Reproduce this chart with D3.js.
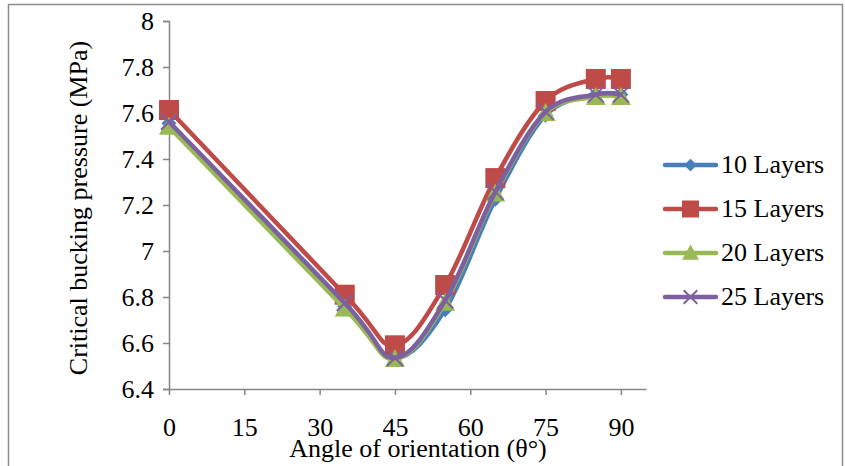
<!DOCTYPE html>
<html>
<head>
<meta charset="utf-8">
<script src="https://cdn.jsdelivr.net/npm/d3@7"></script>
<style>
  body { margin: 0; background: #fff; }
</style>
</head>
<body>
<svg class="chart" width="845" height="466"></svg>
<script>
// Angles (x) and critical buckling pressure for each layer count
var angles = [0, 35, 45, 55, 65, 75, 85, 90];
var layers10 = [7.555, 6.76, 6.535, 6.745, 7.225, 7.59, 7.68, 7.68];
var layers15 = [7.613, 6.81, 6.59, 6.852, 7.317, 7.652, 7.748, 7.748];
var layers20 = [7.54, 6.75, 6.53, 6.775, 7.25, 7.60, 7.67, 7.67];
var layers25 = [7.562, 6.774, 6.535, 6.785, 7.257, 7.605, 7.68, 7.68];
var seriesNames = ["10 Layers", "15 Layers", "20 Layers", "25 Layers"];
var xTicks = [0, 15, 30, 45, 60, 75, 90];
var yTicks = [6.4, 6.6, 6.8, 7, 7.2, 7.4, 7.6, 7.8, 8];

var colors = ["#4a7ebb", "#be4b48", "#98b954", "#7d60a0"];
var shapes = ["diamond", "square", "triangle", "cross"];
var serif = "'Liberation Serif', 'Times New Roman', serif";
var fs = "26px";

var svg = d3.select(".chart");

// Outer chart border
svg.append("rect")
    .attr("x", 8.5).attr("y", 4.5)
    .attr("width", 834).attr("height", 480)
    .attr("fill", "none")
    .attr("stroke", "#8c8c8c")
    .attr("stroke-width", 1.5);

var x = d3.scaleLinear().domain([0, 95]).range([169, 646]);
var y = d3.scaleLinear().domain([6.4, 8]).range([389, 21]);

// Y axis
var yAxis = svg.append("g")
    .attr("transform", "translate(" + x(0) + ",0)")
    .call(d3.axisLeft(y).tickValues(yTicks).tickSize(6).tickPadding(9)
        .tickFormat(function(d) { return d3.format("")(+d.toFixed(1)); }));
yAxis.attr("font-family", null);
yAxis.select(".domain").attr("stroke", "#868686").attr("stroke-width", 1.5);
yAxis.selectAll("line").attr("stroke", "#868686").attr("stroke-width", 1.5);
yAxis.selectAll("text").style("font-size", fs).style("font-family", serif).attr("fill", "#000");

// X axis
var xAxis = svg.append("g")
    .attr("transform", "translate(0," + y(6.4) + ")")
    .call(d3.axisBottom(x).tickValues(xTicks).tickSizeInner(6).tickSizeOuter(0).tickPadding(23));
xAxis.attr("font-family", null);
xAxis.select(".domain").attr("stroke", "#868686").attr("stroke-width", 1.5);
xAxis.selectAll("line").attr("stroke", "#868686").attr("stroke-width", 1.5);
xAxis.selectAll("text").style("font-size", fs).style("font-family", serif).attr("fill", "#000");

// Axis titles
svg.append("text")
    .attr("transform", "translate(87,208) rotate(-90)")
    .style("text-anchor", "middle")
    .style("font-size", fs)
    .style("font-family", serif)
    .text("Critical bucking pressure (MPa)");

svg.append("text")
    .attr("x", 418).attr("y", 457)
    .style("text-anchor", "middle")
    .style("font-size", fs)
    .style("font-family", serif)
    .text("Angle of orientation (θ°)");

// Markers (k scales the size, used smaller in the legend)
function marker(g, shape, color, cx, cy, k) {
    if (shape === "diamond") {
        var s = 7.5 * k;
        g.append("path")
            .attr("d", "M" + cx + "," + (cy - s) + "L" + (cx + s) + "," + cy + "L" + cx + "," + (cy + s) + "L" + (cx - s) + "," + cy + "Z")
            .attr("fill", color);
    } else if (shape === "square") {
        var h = 10 * k;
        g.append("rect")
            .attr("x", cx - h).attr("y", cy - h)
            .attr("width", 2 * h).attr("height", 2 * h)
            .attr("fill", color);
    } else if (shape === "triangle") {
        var t = 10 * k;
        g.append("path")
            .attr("d", "M" + cx + "," + (cy - t) + "L" + (cx + t) + "," + (cy + 0.8 * t) + "L" + (cx - t) + "," + (cy + 0.8 * t) + "Z")
            .attr("fill", color);
    } else {
        var c = 8 * k;
        g.append("path")
            .attr("d", "M" + (cx - c) + "," + (cy - c) + "L" + (cx + c) + "," + (cy + c) + "M" + (cx + c) + "," + (cy - c) + "L" + (cx - c) + "," + (cy + c))
            .attr("stroke", color)
            .attr("stroke-width", 2);
    }
}

var allSeries = [layers10, layers15, layers20, layers25];
var line = d3.line()
    .x(function(d) { return x(d[0]); })
    .y(function(d) { return y(d[1]); })
    .curve(d3.curveCatmullRom.alpha(0));

allSeries.forEach(function(vals, i) {
    var pts = angles.map(function(a, j) { return [a, vals[j]]; });
    var g = svg.append("g");
    g.append("path")
        .datum(pts)
        .attr("d", line)
        .attr("fill", "none")
        .attr("stroke", colors[i])
        .attr("stroke-width", 4.5)
        .attr("stroke-linejoin", "round")
        .attr("stroke-linecap", "round");
    pts.forEach(function(p) {
        marker(g, shapes[i], colors[i], x(p[0]), y(p[1]), 1);
    });
});

// Legend
var legend = svg.append("g");
seriesNames.forEach(function(name, i) {
    var ly = 165 + i * 44;
    var g = legend.append("g");
    g.append("line")
        .attr("x1", 665).attr("x2", 716)
        .attr("y1", ly).attr("y2", ly)
        .attr("stroke", colors[i])
        .attr("stroke-width", 4.5)
        .attr("stroke-linecap", "round");
    marker(g, shapes[i], colors[i], 690.5, ly, 0.85);
    g.append("text")
        .attr("x", 721).attr("y", ly + 8)
        .style("font-size", fs)
        .style("font-family", serif)
        .text(name);
});
</script>
</body>
</html>
